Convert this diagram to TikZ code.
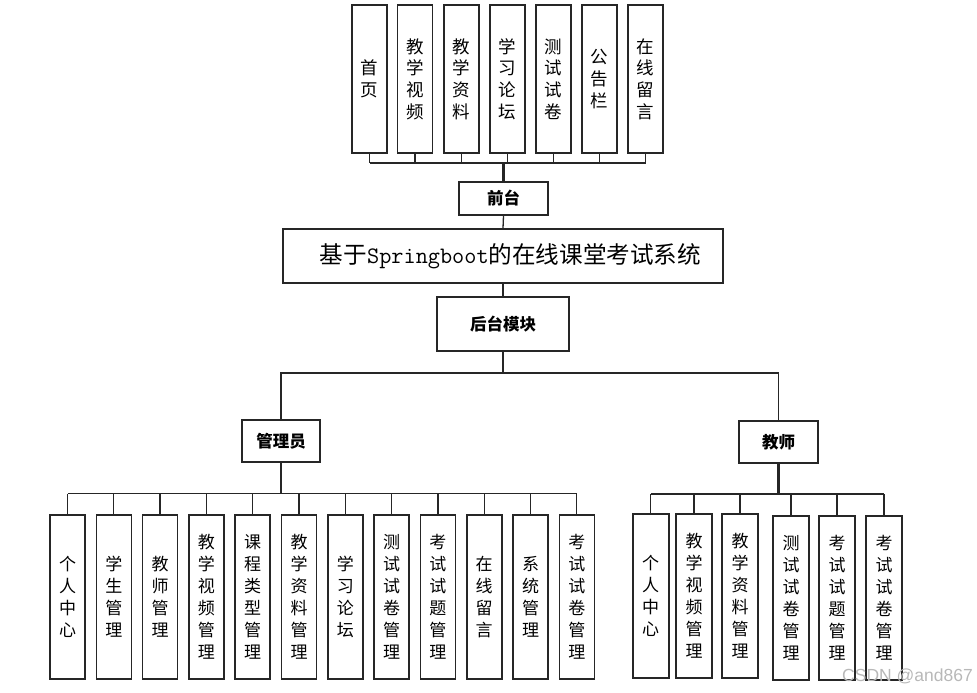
\documentclass[tikz,border=0pt]{standalone}
\usepackage{fontspec}
\newfontfamily\cjk{Noto Sans CJK SC}
\newfontfamily\wmfont{Liberation Sans}
\begin{document}
\begin{tikzpicture}[x=1pt,y=-1pt,
  vbox/.style={draw=black!85,line width=1.6pt,fill=white,minimum width=35pt,inner sep=0pt,align=center,font=\cjk\fontsize{17}{22}\selectfont},
  topbox/.style={vbox,minimum height=148pt,font=\cjk\fontsize{17.5}{21.7}\selectfont},
  botbox/.style={vbox,minimum height=164pt},
  midbox/.style={draw=black!85,line width=1.6pt,fill=white,inner sep=0pt,font=\cjk\bfseries\fontsize{16.5}{20}\selectfont},
  conn/.style={line width=1.3pt,draw=black!85},
  thickconn/.style={line width=2.4pt,draw=black!85}]
\useasboundingbox (0,0) rectangle (977,693);

% top boxes
\node[topbox] (t1) at (369.5,79) {首\\页};
\node[topbox] (t2) at (415,79) {教\\学\\视\\频};
\node[topbox] (t3) at (461.5,79) {教\\学\\资\\料};
\node[topbox] (t4) at (507.5,79) {学\\习\\论\\坛};
\node[topbox] (t5) at (553.5,79) {测\\试\\试\\卷};
\node[topbox] (t6) at (599.5,79) {公\\告\\栏};
\node[topbox] (t7) at (645.5,79) {在\\线\\留\\言};

\node[midbox,minimum width=89pt,minimum height=33pt] (qt) at (503.5,198.5) {前台};
\node[draw=black!85,line width=1.6pt,fill=white,minimum width=440pt,minimum height=54pt,inner sep=0pt] (main) at (503,256)
  {\hspace{15pt}{\cjk\fontsize{23.6}{27}\selectfont 基于}{\ttfamily\fontsize{23.6}{27}\selectfont Springboot}{\cjk\fontsize{23.6}{27}\selectfont 的在线课堂考试系统}};
\node[midbox,minimum width=132pt,minimum height=54pt] (ht) at (503,324) {后台模块};
\node[midbox,minimum width=78pt,minimum height=42pt] (gly) at (281,441) {管理员};
\node[midbox,minimum width=79pt,minimum height=42pt] (js) at (778.5,442) {教师};

% admin boxes
\node[botbox] (a1) at (67.5,597) {个\\人\\中\\心};
\node[botbox] (a2) at (113.8,597) {学\\生\\管\\理};
\node[botbox] (a3) at (160.1,597) {教\\师\\管\\理};
\node[botbox] (a4) at (206.4,597) {教\\学\\视\\频\\管\\理};
\node[botbox] (a5) at (252.7,597) {课\\程\\类\\型\\管\\理};
\node[botbox] (a6) at (299,597) {教\\学\\资\\料\\管\\理};
\node[botbox] (a7) at (345.3,597) {学\\习\\论\\坛};
\node[botbox] (a8) at (391.6,597) {测\\试\\试\\卷\\管\\理};
\node[botbox] (a9) at (437.9,597) {考\\试\\试\\题\\管\\理};
\node[botbox] (a10) at (484.2,597) {在\\线\\留\\言};
\node[botbox] (a11) at (530.5,597) {系\\统\\管\\理};
\node[botbox] (a12) at (576.8,597) {考\\试\\试\\卷\\管\\理};

% teacher boxes
\node[botbox,minimum width=36pt] (b1) at (650.7,596) {个\\人\\中\\心};
\node[botbox,minimum width=36pt] (b2) at (694,596) {教\\学\\视\\频\\管\\理};
\node[botbox,minimum width=36pt] (b3) at (740,596) {教\\学\\资\\料\\管\\理};
\node[botbox,minimum width=36pt] (b4) at (791,598) {测\\试\\试\\卷\\管\\理};
\node[botbox,minimum width=36pt] (b5) at (837,598) {考\\试\\试\\题\\管\\理};
\node[botbox,minimum width=36pt] (b6) at (884,598) {考\\试\\试\\卷\\管\\理};

% connectors top
\coordinate (topbus) at (503.5,163);
\foreach \i in {1,...,7}{\draw[conn] (t\i.south) -- (t\i.south |- topbus);}
\draw[conn] (t1.south |- topbus) -- (t7.south |- topbus);
\draw[thickconn] (topbus) -- (qt.north);
\draw[conn] (qt.south) -- (main.north);
\draw[conn] (main.south) -- (ht.north);

% backend split
\coordinate (midbus) at (503,373);
\draw[conn] (ht.south) -- (midbus);
\draw[conn] (gly.north) -- (gly.north |- midbus) -- (js.north |- midbus) -- (js.north);

% admin bus
\coordinate (abus) at (281,493.5);
\draw[thickconn] (gly.south) -- (abus);
\foreach \i in {1,...,12}{\draw[conn] (a\i.north) -- (a\i.north |- abus);}
\draw[conn] (a1.north |- abus) -- (a12.north |- abus);

% teacher bus
\coordinate (bbus) at (778.5,494);
\draw[thickconn] (js.south) -- (bbus);
\foreach \i in {1,...,6}{\draw[conn] (b\i.north) -- (b\i.north |- bbus);}
\draw[conn] (b1.north |- bbus) -- (b6.north |- bbus);

% watermark
\node[text=black!28,font=\wmfont\fontsize{17.5}{20}\selectfont,anchor=east,inner sep=0pt] (wm) at (973,676) {CSDN @and867};
\end{tikzpicture}
\end{document}
